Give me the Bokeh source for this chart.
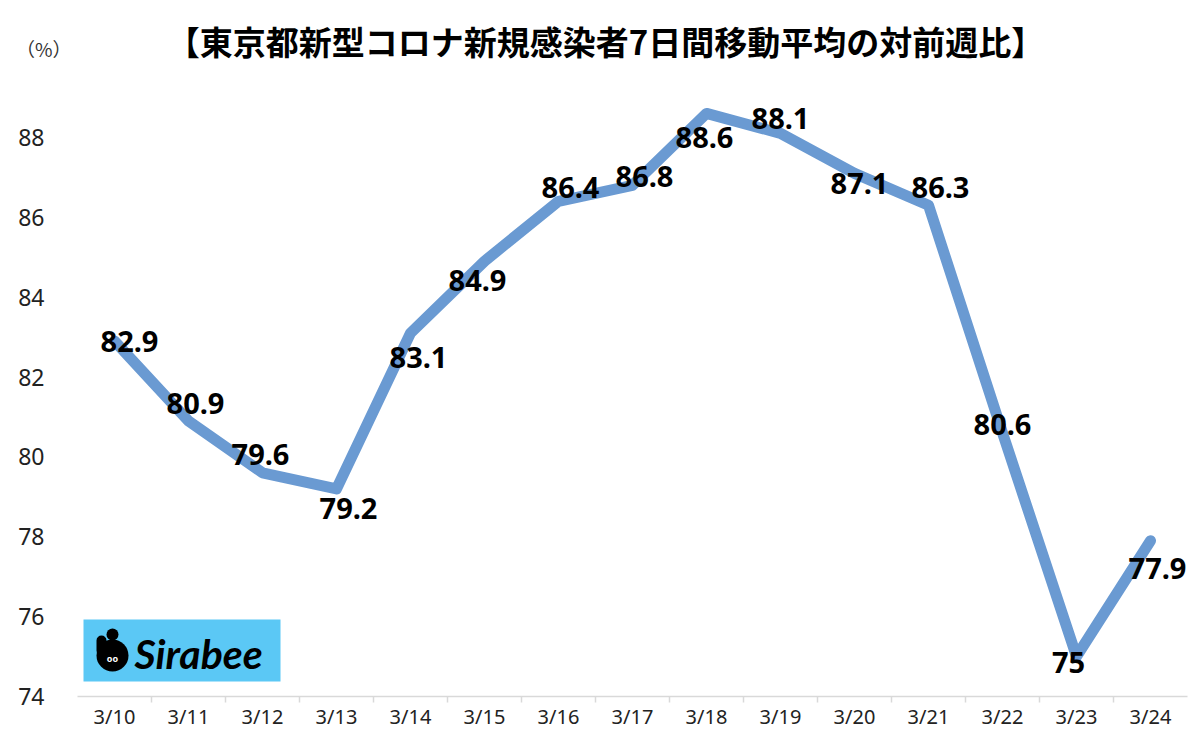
from bokeh.plotting import figure
from bokeh.models import (ColumnDataSource, Range1d, FactorRange, LinearAxis, CategoricalAxis,
                          FixedTicker, Label, BoxAnnotation)
from bokeh.layouts import column
from bokeh.core.properties import value
from bokeh.embed import file_html
from bokeh.resources import INLINE

# ---- data ----
categories = ["3/10", "3/11", "3/12", "3/13", "3/14", "3/15", "3/16", "3/17",
              "3/18", "3/19", "3/20", "3/21", "3/22", "3/23", "3/24"]
ratios = [82.9, 80.9, 79.6, 79.2, 83.1, 84.9, 86.4, 86.8,
          88.6, 88.1, 87.1, 86.3, 80.6, 75, 77.9]
labels = ["82.9", "80.9", "79.6", "79.2", "83.1", "84.9", "86.4", "86.8",
          "88.6", "88.1", "87.1", "86.3", "80.6", "75", "77.9"]
y_ticks = [74, 76, 78, 80, 82, 84, 86, 88]
title_text = "【東京都新型コロナ新規感染者7日間移動平均の対前週比】"
unit_text = "（%）"

# label placement (pixel offsets from each point)
label_dx = [15, 7, -2, 12, 8, -7, 12, 12, -2, 0, 5, 12, 0, -8, 7]
label_dy = [0, -17, -18, 20, 24, 19, -14, -9, 24, -15, 10, -18, -8, 6, 28]

CJK = "Noto Sans CJK JP"
NUM = "Noto Sans"
LINE_COLOR = "#6a9ad2"
W = 1192
HDR_H = 64              # header height in px
PX_PER_UNIT = 40        # vertical scale of the chart
AXIS_Y = 697            # page y of the x axis
Y_MIN = 74
Y_MAX = Y_MIN + (AXIS_Y - HDR_H) / PX_PER_UNIT

# ---- header (title + unit) ----
hdr = figure(width=W, height=HDR_H, output_backend="svg", toolbar_location=None,
             x_range=Range1d(77, 1187), y_range=Range1d(HDR_H, 0),
             x_axis_location=None, y_axis_location=None,
             min_border=0, min_border_left=77, min_border_right=5,
             min_border_top=0, min_border_bottom=0)
hdr.outline_line_color = None
hdr.xgrid.grid_line_color = None
hdr.ygrid.grid_line_color = None
hdr.add_layout(Label(x=605, y=40, text=title_text, text_font=CJK,
                     text_font_size="33px", text_font_style="bold",
                     text_color="black", text_align="center", text_baseline="middle"))
uax = LinearAxis(ticker=FixedTicker(ticks=[48]), major_label_overrides={48: unit_text})
uax.axis_line_color = None
uax.major_tick_line_color = None
uax.minor_tick_line_color = None
uax.major_label_standoff = 0
uax.major_label_text_font = CJK
uax.major_label_text_font_size = "19px"
uax.major_label_text_color = "#333333"
hdr.add_layout(uax, "left")

# ---- main chart ----
source = ColumnDataSource(dict(x=categories, y=ratios, text=labels,
                               dx=label_dx, dy=label_dy))

p = figure(width=W, height=(AXIS_Y - HDR_H) + 35, output_backend="svg",
           toolbar_location=None,
           x_range=FactorRange(factors=categories, range_padding=0),
           y_range=Range1d(Y_MIN, Y_MAX), x_axis_location=None, y_axis_location=None,
           min_border_left=77, min_border_right=5, min_border_top=0,
           min_border_bottom=0,
           background_fill_color="white", border_fill_color="white")
p.outline_line_color = None
p.xgrid.grid_line_color = None
p.ygrid.grid_line_color = None

# y axis
yax = LinearAxis(ticker=FixedTicker(ticks=y_ticks))
yax.axis_line_color = None
yax.major_tick_line_color = None
yax.minor_tick_line_color = None
yax.major_label_standoff = 27
yax.major_label_text_font = NUM
yax.major_label_text_font_size = "23px"
yax.major_label_text_color = "#222222"
p.add_layout(yax, "left")

# x axis: boundary ticks (a shifted factor range whose factor centres fall
# on the category boundaries)
bounds = ["b%d" % i for i in range(len(categories) + 1)]
p.extra_x_ranges = {"bounds": FactorRange(factors=bounds, range_padding=-0.5,
                                          range_padding_units="absolute")}
bax = CategoricalAxis(x_range_name="bounds")
bax.axis_line_color = "#d9d9d9"
bax.axis_line_width = 1.5
bax.major_tick_line_color = "#d9d9d9"
bax.major_tick_line_width = 1.5
bax.major_tick_out = 6
bax.major_tick_in = 0
bax.major_label_overrides = {b: "" for b in bounds}
bax.major_label_text_font_size = "1px"
bax.major_label_text_color = None
bax.major_label_standoff = 0
p.add_layout(bax, "below")

# x axis: category labels
cax = CategoricalAxis()
cax.axis_line_color = None
cax.major_tick_line_color = None
cax.major_label_standoff = -6
cax.major_label_text_font = NUM
cax.major_label_text_font_size = "20px"
cax.major_label_text_color = "#222222"
p.add_layout(cax, "below")

# logo (decoration)
def screen_box(l, r, b, t, color, rad=0):
    return BoxAnnotation(left=l, right=r, bottom=b, top=t,
                         left_units="screen", right_units="screen",
                         bottom_units="screen", top_units="screen",
                         fill_color=color, fill_alpha=1, line_color=None,
                         border_radius=rad, level="underlay")

p.add_layout(screen_box(6, 203, 15, 77, "#5bc8f5"))
p.add_layout(screen_box(19, 51, 25, 57, "black", 16))
p.add_layout(screen_box(29, 41, 56, 68, "black", 6))
p.add_layout(screen_box(19, 29, 41, 61, "black", 5))
p.add_layout(Label(x=35, y=38, x_units="screen", y_units="screen", text="oo",
                   text_font=NUM, text_font_size="9px", text_font_style="bold",
                   text_color="white", text_align="center", text_baseline="middle"))
p.add_layout(Label(x=57, y=43, x_units="screen", y_units="screen", text="Sirabee",
                   text_font="Lato", text_font_size="41px",
                   text_font_style="bold italic", text_color="black",
                   text_align="left", text_baseline="middle"))

# main line
p.line("x", "y", source=source, line_color=LINE_COLOR, line_width=11,
       line_join="round", line_cap="round")

# data labels
p.text("x", "y", text="text", source=source, x_offset="dx", y_offset="dy",
       text_font=value(NUM), text_font_size="29px", text_font_style="bold",
       text_color="black", text_align="center", text_baseline="middle")

layout = column(hdr, p, spacing=0)
open("out.html", "w").write(file_html(layout, INLINE))
